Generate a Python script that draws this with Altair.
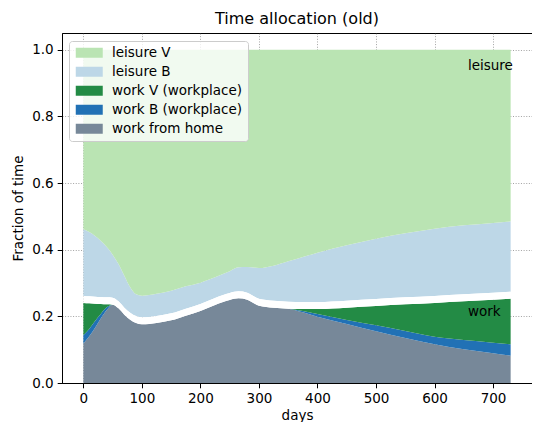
import altair as alt
import pandas as pd

# ---- values ----
days = [0, 10, 20, 30, 40, 50, 60, 70, 80, 90, 100, 125, 150, 175, 200, 225, 250,
        265, 280, 300, 325, 350, 375, 400, 450, 500, 550, 600, 650, 700, 730]

# cumulative top of each stacked band (fraction of time)
home_top = [0.118, 0.140, 0.166, 0.194, 0.219, 0.235, 0.224, 0.205, 0.190, 0.180, 0.176,
            0.180, 0.188, 0.202, 0.216, 0.234, 0.249, 0.254, 0.250, 0.232, 0.226, 0.223,
            0.212, 0.199, 0.177, 0.155, 0.135, 0.116, 0.101, 0.089, 0.082]
workB_top = [0.143, 0.162, 0.186, 0.208, 0.227, 0.235, 0.224, 0.205, 0.190, 0.180, 0.176,
             0.180, 0.188, 0.202, 0.216, 0.234, 0.249, 0.254, 0.250, 0.232, 0.226, 0.223,
             0.216, 0.207, 0.189, 0.173, 0.156, 0.139, 0.129, 0.121, 0.116]
workV_top = [0.240, 0.239, 0.238, 0.237, 0.236, 0.235, 0.224, 0.205, 0.190, 0.180, 0.176,
             0.180, 0.188, 0.202, 0.216, 0.234, 0.249, 0.254, 0.250, 0.232, 0.226, 0.223,
             0.222, 0.222, 0.226, 0.231, 0.236, 0.240, 0.245, 0.250, 0.253]
gap_width = 0.021
leisB_top = [0.461, 0.453, 0.441, 0.426, 0.408, 0.385, 0.357, 0.322, 0.287, 0.266, 0.262,
             0.268, 0.277, 0.290, 0.301, 0.317, 0.335, 0.347, 0.348, 0.345, 0.352, 0.365,
             0.378, 0.391, 0.413, 0.433, 0.449, 0.463, 0.473, 0.480, 0.485]
total = 1.0

series = ["leisure V", "leisure B", "work V (workplace)", "work B (workplace)", "work from home"]
colors = ["#bae4b3", "#bdd7e7", "#238b45", "#2171b5", "#778899"]

ann_text = ["leisure", "work"]
ann_day = [657, 657]
ann_val = [0.938, 0.202]

x_ticks = [0, 100, 200, 300, 400, 500, 600, 700]
y_ticks = [0.0, 0.2, 0.4, 0.6, 0.8, 1.0]

# ---- build tables ----
rows = []
gap_rows = []
for i, d in enumerate(days):
    gap_top = workV_top[i] + gap_width
    bands = [
        ("work from home", 0.0, home_top[i]),
        ("work B (workplace)", home_top[i], workB_top[i]),
        ("work V (workplace)", workB_top[i], workV_top[i]),
        ("leisure B", gap_top, leisB_top[i]),
        ("leisure V", leisB_top[i], total),
    ]
    for name, lo, hi in bands:
        rows.append({"day": d, "layer": name, "lo": lo, "hi": hi})
    gap_rows.append({"day": d, "lo": workV_top[i], "hi": gap_top})

df = pd.DataFrame(rows)
gdf = pd.DataFrame(gap_rows)
adf = pd.DataFrame({"day": ann_day, "val": ann_val, "text": ann_text})

FONT = "DejaVu Sans"
FS = 13.5
xs = alt.Scale(domain=[-36.5, 766.5], nice=False, zero=False)
ys = alt.Scale(domain=[0, 1.05], nice=False)

rect_path = "M-2.7,-1H2.7V1H-2.7Z"

areas = alt.Chart(df).mark_area(interpolate="monotone").encode(
    x=alt.X("day:Q", scale=xs,
            axis=alt.Axis(title="days", values=x_ticks, format="d")),
    y=alt.Y("lo:Q", scale=ys,
            axis=alt.Axis(title="Fraction of time", values=y_ticks, format=".1f")),
    y2="hi:Q",
    color=alt.Color("layer:N",
                    scale=alt.Scale(domain=series, range=colors),
                    legend=alt.Legend(
                        title=None, orient="none", legendX=7, legendY=8,
                        symbolType=rect_path, symbolSize=100, symbolOffset=8.5,
                        symbolStrokeWidth=0, symbolOpacity=1,
                        labelOffset=16, labelFont=FONT, labelFontSize=FS,
                        labelColor="#000000", rowPadding=4, padding=5,
                        fillColor="rgba(255,255,255,0.8)", strokeColor="#cccccc",
                        cornerRadius=3, zindex=2)),
    order=alt.Order("layer:N"),
)

gap = alt.Chart(gdf).mark_area(interpolate="monotone", color="white").encode(
    x=alt.X("day:Q", scale=xs),
    y=alt.Y("lo:Q", scale=ys),
    y2="hi:Q",
)

labels = alt.Chart(adf).mark_text(align="left", baseline="alphabetic", font=FONT,
                                  fontSize=FS, color="black").encode(
    x=alt.X("day:Q", scale=xs),
    y=alt.Y("val:Q", scale=ys),
    text="text:N",
)

chart = alt.layer(areas, gap, labels).properties(
    width=524, height=414,
    autosize=alt.AutoSizeParams(type="fit", contains="padding"),
    padding={"left": 3, "top": 3, "right": 0, "bottom": 0},
    title=alt.Title("Time allocation (old)", font=FONT, fontSize=16,
                    fontWeight="normal", color="black", offset=6),
).configure_view(
    stroke="black", strokeWidth=1
).configure_axis(
    labelFont=FONT, labelFontSize=FS, labelColor="black",
    titleFont=FONT, titleFontSize=FS, titleFontWeight="normal", titleColor="black",
    domainColor="black", domainWidth=1, tickColor="black", tickSize=4.8, tickWidth=1,
    labelPadding=4, grid=True, gridColor="#555555", gridOpacity=0.55,
    gridDash=[1, 1.65], gridWidth=1, zindex=1,
).configure_axisY(
    titlePadding=6
).configure_axisX(
    titlePadding=3
)

chart.save("out.html", embed_options={"renderer": "svg", "actions": False})
